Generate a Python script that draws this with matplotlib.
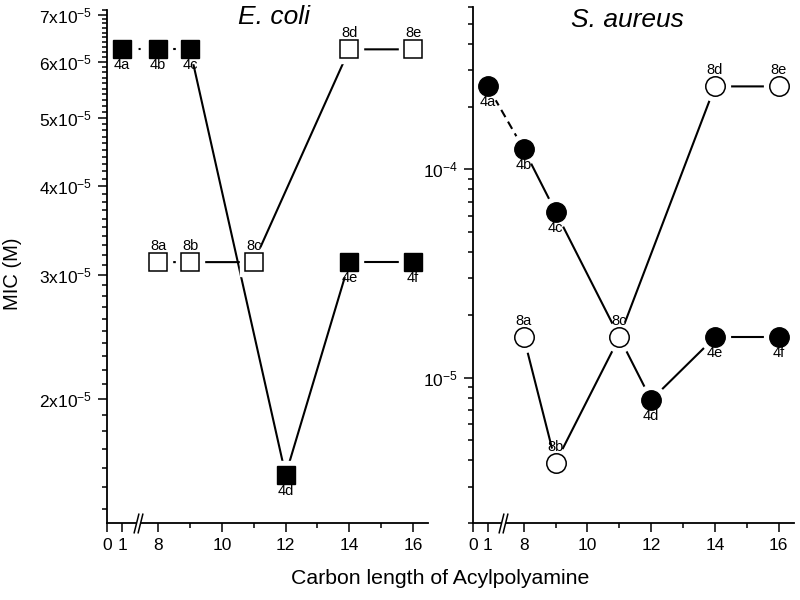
import numpy as np
import matplotlib
matplotlib.use('Agg')
import matplotlib.pyplot as plt
from matplotlib.path import Path
from matplotlib.ticker import FixedLocator, FixedFormatter, MultipleLocator, LogLocator, NullFormatter

plt.rcParams['font.family'] = ['Liberation Sans', 'DejaVu Sans']
plt.rcParams['mathtext.fontset'] = 'custom'
plt.rcParams['mathtext.rm'] = 'Liberation Sans'
plt.rcParams['mathtext.it'] = 'Liberation Sans:italic'
plt.rcParams['mathtext.default'] = 'regular'

# ---------------- data ----------------
carbon_4 = [1, 8, 9, 12, 14, 16]
labels_4 = ['4a', '4b', '4c', '4d', '4e', '4f']
carbon_8 = [8, 9, 11, 14, 16]
labels_8 = ['8a', '8b', '8c', '8d', '8e']

ecoli_4 = [6.25e-5, 6.25e-5, 6.25e-5, 1.5625e-5, 3.125e-5, 3.125e-5]
ecoli_8 = [3.125e-5, 3.125e-5, 3.125e-5, 6.25e-5, 6.25e-5]
saureus_4 = [2.5e-4, 1.25e-4, 6.25e-5, 7.8125e-6, 1.5625e-5, 1.5625e-5]
saureus_8 = [1.5625e-5, 3.90625e-6, 1.5625e-5, 2.5e-4, 2.5e-4]

x_ticks = [0, 1, 8, 10, 12, 14, 16]
x_ticklabels = ['0', '1', '8', '10', '12', '14', '16']
x_minor_ticks = [9, 11, 13, 15]
ecoli_yticks = [2e-5, 3e-5, 4e-5, 5e-5, 6e-5, 7e-5]
ecoli_yticklabels = ['2x10$^{-5}$', '3x10$^{-5}$', '4x10$^{-5}$',
                     '5x10$^{-5}$', '6x10$^{-5}$', '7x10$^{-5}$']
saureus_yticks = [1e-5, 1e-4]
saureus_yticklabels = ['10$^{-5}$', '10$^{-4}$']

# ---------------- broken x scale ----------------
S1 = 0.47          # width of 0..1 segment
S2 = 1.13          # width of 1..8 segment (break region)
P0 = 6.4           # plot position of 0

def fwd(x):
    x = np.asarray(x, dtype=float)
    return np.where(x < 1, P0 + S1 * x,
                    np.where(x < 8, P0 + S1 + (x - 1) * S2 / 7.0, x))

def inv(p):
    p = np.asarray(p, dtype=float)
    return np.where(p < P0 + S1, (p - P0) / S1,
                    np.where(p < 8, 1 + (p - P0 - S1) * 7.0 / S2, p))

slash_path = Path([(-4.5, -10), (0.5, 10), (-0.5, -10), (4.5, 10)],
                  [Path.MOVETO, Path.LINETO, Path.MOVETO, Path.LINETO])
gap_path = Path([(-4.5, -10), (-0.5, -10), (4.5, 10), (0.5, 10), (-4.5, -10)],
                [Path.MOVETO, Path.LINETO, Path.LINETO, Path.LINETO, Path.CLOSEPOLY])

LW = 1.5
fig = plt.figure(figsize=(8, 6), dpi=100)
axL = fig.add_axes([0.134, 0.128, 0.401, 0.855])
axR = fig.add_axes([0.591, 0.128, 0.401, 0.860])


def draw_panel(ax, y4, y8, marker, ms, first_style, ylim):
    ax.set_xscale('function', functions=(fwd, inv))
    ax.set_yscale('log')
    ax.set_xlim(0, 16.47)
    ax.set_ylim(*ylim)
    # connecting lines
    for i in range(len(carbon_4) - 1):
        ls = first_style if i == 0 else '-'
        ax.plot(carbon_4[i:i + 2], y4[i:i + 2], color='black', lw=LW, ls=ls, zorder=2)
    ax.plot(carbon_8, y8, color='black', lw=LW, zorder=2)
    halo = ms + 7.5
    ax.plot(carbon_4, y4, ls='none', marker=marker, ms=halo, mfc='white',
            mec='white', zorder=2.2)
    ax.plot(carbon_8, y8, ls='none', marker=marker, ms=halo, mfc='white',
            mec='white', zorder=2.2)
    ax.plot(carbon_4, y4, ls='none', marker=marker, ms=ms, mfc='black',
            mec='black', mew=1.0, zorder=3)
    ax.plot(carbon_8, y8, ls='none', marker=marker, ms=ms, mfc='white',
            mec='black', mew=1.1, zorder=3)
    for x, y, t in zip(carbon_4, y4, labels_4):
        ax.annotate(t, (x, y), xytext=(0, -11.5), textcoords='offset points',
                    ha='center', va='center', fontsize=10.5, zorder=6)
    for x, y, t in zip(carbon_8, y8, labels_8):
        ax.annotate(t, (x, y), xytext=(0, 11.5), textcoords='offset points',
                    ha='center', va='center', fontsize=10.5, zorder=6)
    # axes styling
    for s in ('top', 'right'):
        ax.spines[s].set_visible(False)
    for s in ('left', 'bottom'):
        ax.spines[s].set_linewidth(1.3)
    ax.xaxis.set_major_locator(FixedLocator(x_ticks))
    ax.xaxis.set_major_formatter(FixedFormatter(x_ticklabels))
    ax.xaxis.set_minor_locator(FixedLocator(x_minor_ticks))
    ax.xaxis.set_minor_formatter(NullFormatter())
    ax.tick_params(which='major', direction='out', length=6.5, width=1.1,
                   labelsize=12.5, pad=4)
    ax.tick_params(which='minor', direction='out', length=3.5, width=1.1)
    # axis break mark
    tr = ax.get_xaxis_transform()
    ax.plot([4], [0], transform=tr, marker=gap_path, ms=14.4, mfc='white',
            mec='none', ls='none', clip_on=False, zorder=4)
    ax.plot([4], [0], transform=tr, marker=slash_path, ms=14.4, mfc='none',
            mec='black', mew=1.1, ls='none', clip_on=False, zorder=5)


draw_panel(axL, ecoli_4, ecoli_8, 's', 13, ':', (1.335e-5, 7.1e-5))
draw_panel(axR, saureus_4, saureus_8, 'o', 14, (0, (4, 2.5)), (2e-6, 6e-4))

axL.yaxis.set_major_locator(FixedLocator(ecoli_yticks))
axL.yaxis.set_major_formatter(FixedFormatter(ecoli_yticklabels))
axL.yaxis.set_minor_locator(MultipleLocator(1e-6))
axL.yaxis.set_minor_formatter(NullFormatter())

axR.yaxis.set_major_locator(FixedLocator(saureus_yticks))
axR.yaxis.set_major_formatter(FixedFormatter(saureus_yticklabels))
axR.yaxis.set_minor_locator(LogLocator(base=10, subs=np.arange(2, 10), numticks=20))
axR.yaxis.set_minor_formatter(NullFormatter())

axL.text(0.52, 0.986, 'E. coli', transform=axL.transAxes, style='italic',
         fontsize=19, ha='center', va='center')
axR.text(0.483, 0.976, 'S. aureus', transform=axR.transAxes, style='italic',
         fontsize=19, ha='center', va='center')

fig.text(0.015, 1 - 274 / 600, 'MIC (M)', rotation=90, fontsize=14.5,
         ha='center', va='center')
fig.text(0.55, 1 - 578 / 600, 'Carbon length of Acylpolyamine', fontsize=15.3,
         ha='center', va='center')

fig.savefig('out.png', dpi=100)
